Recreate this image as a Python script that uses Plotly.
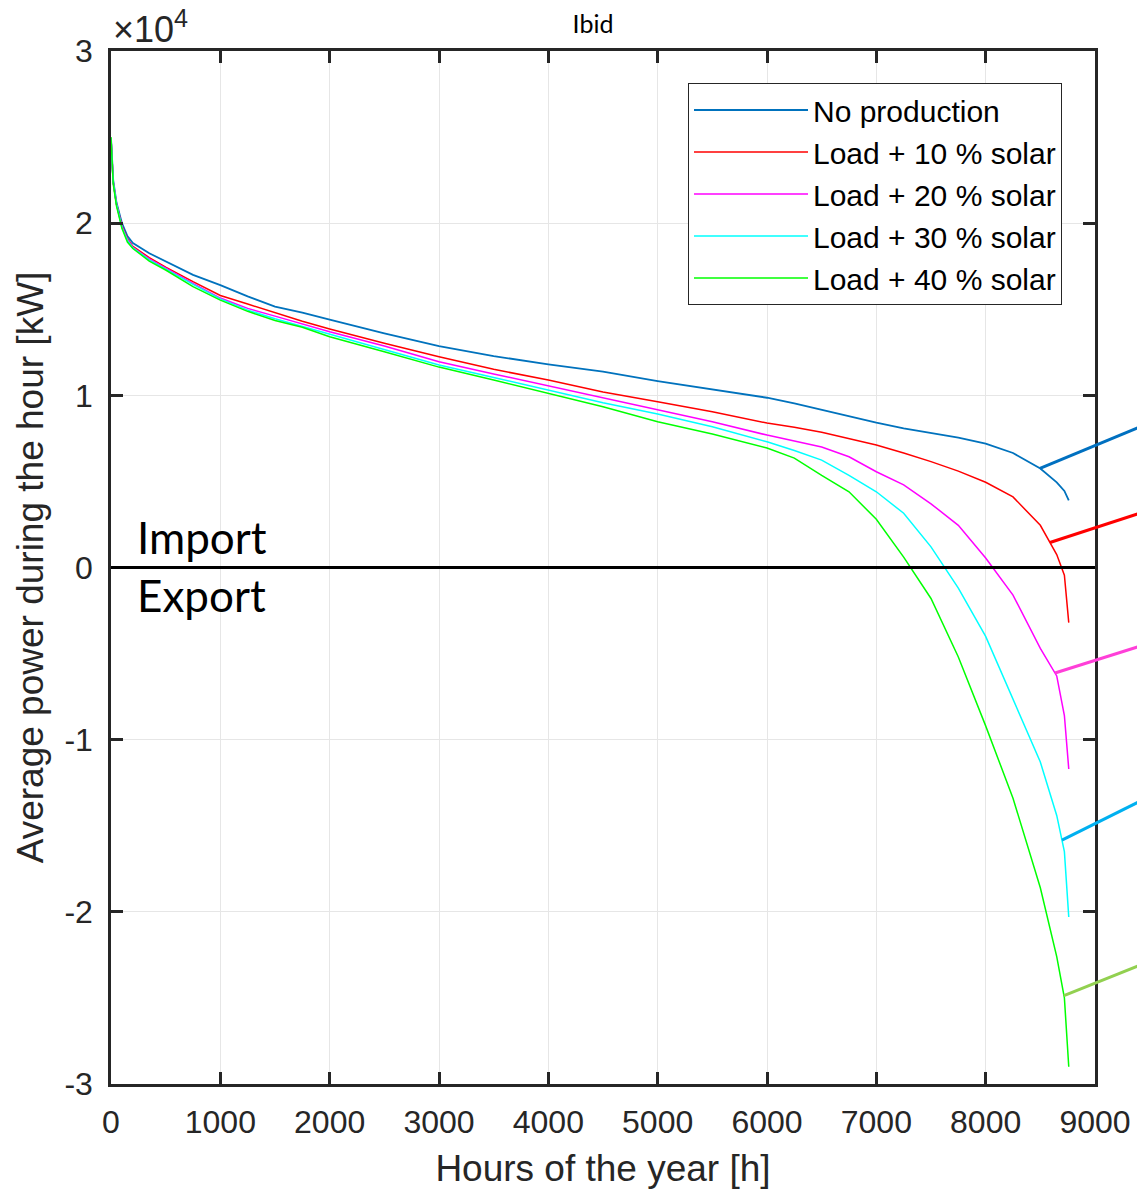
import numpy as np
import plotly.graph_objects as go

hours = [0, 20, 50, 100, 150, 200, 350, 500, 750, 1000, 1250, 1500, 1750, 2000, 2500, 3000,
         3500, 4000, 4500, 5000, 5500, 6000, 6250, 6500, 6750, 7000, 7250, 7500, 7750, 8000,
         8250, 8500, 8650, 8720, 8760]

no_production = [24950, 22500, 21200, 20000, 19250, 18850, 18250, 17780, 17000, 16400, 15750, 15150,
                 14800, 14400, 13600, 12860, 12280, 11800, 11380, 10830, 10350, 9860, 9530, 9150,
                 8780, 8410, 8080, 7800, 7550, 7200, 6650, 5750, 4950, 4450, 3900]
solar_10 = [24950, 22400, 21100, 19850, 19100, 18650, 18000, 17450, 16600, 15800, 15300, 14800,
            14300, 13850, 13020, 12240, 11510, 10890, 10200, 9630, 9050, 8390, 8150, 7850,
            7480, 7110, 6650, 6150, 5600, 4950, 4100, 2450, 750, -450, -3200]
solar_20 = [24950, 22400, 21100, 19800, 19050, 18600, 17920, 17380, 16500, 15650, 15050, 14600,
            14150, 13690, 12860, 11950, 11240, 10540, 9880, 9150, 8470, 7690, 7350, 7000,
            6430, 5560, 4800, 3700, 2450, 550, -1600, -4700, -6300, -8600, -11700]
solar_30 = [24950, 22400, 21100, 19750, 19000, 18560, 17870, 17330, 16450, 15600, 14950, 14450,
            14000, 13560, 12690, 11760, 11040, 10310, 9570, 8910, 8180, 7300, 6800, 6240,
            5350, 4400, 3150, 1200, -1200, -4000, -7600, -11300, -14400, -16500, -20300]
solar_40 = [25000, 22300, 21000, 19700, 18900, 18530, 17800, 17280, 16310, 15530, 14880, 14350,
            13950, 13400, 12530, 11640, 10890, 10130, 9340, 8470, 7750, 6940, 6350, 5350,
            4400, 2800, 600, -1800, -5200, -9200, -13400, -18600, -22600, -25000, -29000]

series_names = ["No production", "Load + 10 % solar", "Load + 20 % solar",
                "Load + 30 % solar", "Load + 40 % solar"]
series_values = [no_production, solar_10, solar_20, solar_30, solar_40]
series_colors = ["#0072BD", "#FF0000", "#FF00FF", "#00FFFF", "#00FF00"]
series_widths = [1.8, 1.5, 1.5, 1.5, 1.5]

# callout pointers: hour on each curve where the pointer starts, and its direction (pixels)
callout_hours = [8497, 8588, 8634, 8698, 8716]
callout_colors = ["#0070C0", "#FF0000", "#FF3FD8", "#00B0F0", "#92D050"]
callout_dx = [130, 120, 120, 120, 120]
callout_dy = [-54, -39, -38, -60, -48]

y_ticks = [-30000, -20000, -10000, 0, 10000, 20000, 30000]
y_tick_text = ["-3", "-2", "-1", "0", "1", "2", "3"]
x_ticks = [0, 1000, 2000, 3000, 4000, 5000, 6000, 7000, 8000, 9000]
X_RANGE = [0, 9000]
Y_RANGE = [-30000, 30000]

W, H = 1137, 1190
ML, MR, MT, MB = 111, 42, 51, 106
PW, PH = W - ML - MR, H - MT - MB

FONT = "Liberation Sans, Arial, sans-serif"
INK = "#262626"

fig = go.Figure()
for name, vals, col, w in zip(series_names, series_values, series_colors, series_widths):
    fig.add_trace(go.Scatter(x=hours, y=vals, mode="lines", name=name,
                             line=dict(color=col, width=w)))

# Import / Export divider
fig.add_shape(type="line", xref="x", yref="y", x0=X_RANGE[0], x1=X_RANGE[1], y0=0, y1=0,
              line=dict(color="black", width=3))
fig.add_annotation(x=220, y=1800, xref="x", yref="y", text="Import", showarrow=False,
                   xanchor="left", yanchor="middle", font=dict(family="Lato", size=44, color="black"))
fig.add_annotation(x=220, y=-1600, xref="x", yref="y", text="Export", showarrow=False,
                   xanchor="left", yanchor="middle", font=dict(family="Lato", size=44, color="black"))

# callout pointers leaving the plot to the right (paper coords derived from the data)
for h, vals, col, dx, dy in zip(callout_hours, series_values, callout_colors, callout_dx, callout_dy):
    yv = float(np.interp(h, hours, vals))
    px0 = (h - X_RANGE[0]) / (X_RANGE[1] - X_RANGE[0])
    py0 = (yv - Y_RANGE[0]) / (Y_RANGE[1] - Y_RANGE[0])
    fig.add_shape(type="line", xref="paper", yref="paper",
                  x0=px0, y0=py0, x1=px0 + dx / PW, y1=py0 - dy / PH,
                  line=dict(color=col, width=3))

# exponent label
fig.add_annotation(x=0, y=1, xref="paper", yref="paper", text="×10<sup>4</sup>",
                   showarrow=False, xanchor="left", yanchor="bottom", yshift=-1,
                   font=dict(family=FONT, size=36, color=INK))

axis_common = dict(showline=True, linecolor=INK, linewidth=2.5, mirror="ticks",
                   ticks="inside", ticklen=12, tickwidth=2.5, tickcolor=INK,
                   showgrid=True, gridcolor="#E6E6E6", gridwidth=1, zeroline=False,
                   automargin=False,
                   tickfont=dict(family=FONT, size=32, color=INK))

fig.update_xaxes(range=X_RANGE, tickvals=x_ticks, ticklabelstandoff=8,
                 title=dict(text="Hours of the year [h]", font=dict(family=FONT, size=37, color=INK),
                            standoff=16),
                 **axis_common)
fig.update_yaxes(range=Y_RANGE, tickvals=y_ticks, ticktext=y_tick_text, ticklabelstandoff=9,
                 title=dict(text="Average power during the hour [kW]",
                            font=dict(family=FONT, size=37, color=INK), standoff=10),
                 **axis_common)

fig.update_layout(
    width=W, height=H,
    margin=dict(l=ML, r=MR, t=MT, b=MB, autoexpand=False),
    paper_bgcolor="white", plot_bgcolor="white",
    title=dict(text="Ibid", x=593 / W, xanchor="center", y=1 - 24 / H, yanchor="middle",
               font=dict(family="Lato", size=25, color="black")),
    legend=dict(x=(1062 - ML) / PW, xanchor="right", y=(H - MB - 83) / PH, yanchor="top",
                bgcolor="white", bordercolor=INK, borderwidth=1, itemwidth=114,
                font=dict(family=FONT, size=30, color="black")),
    showlegend=True,
)

fig.write_html("out.html", config={"displayModeBar": False},
               post_script="document.body.style.margin='0';")
